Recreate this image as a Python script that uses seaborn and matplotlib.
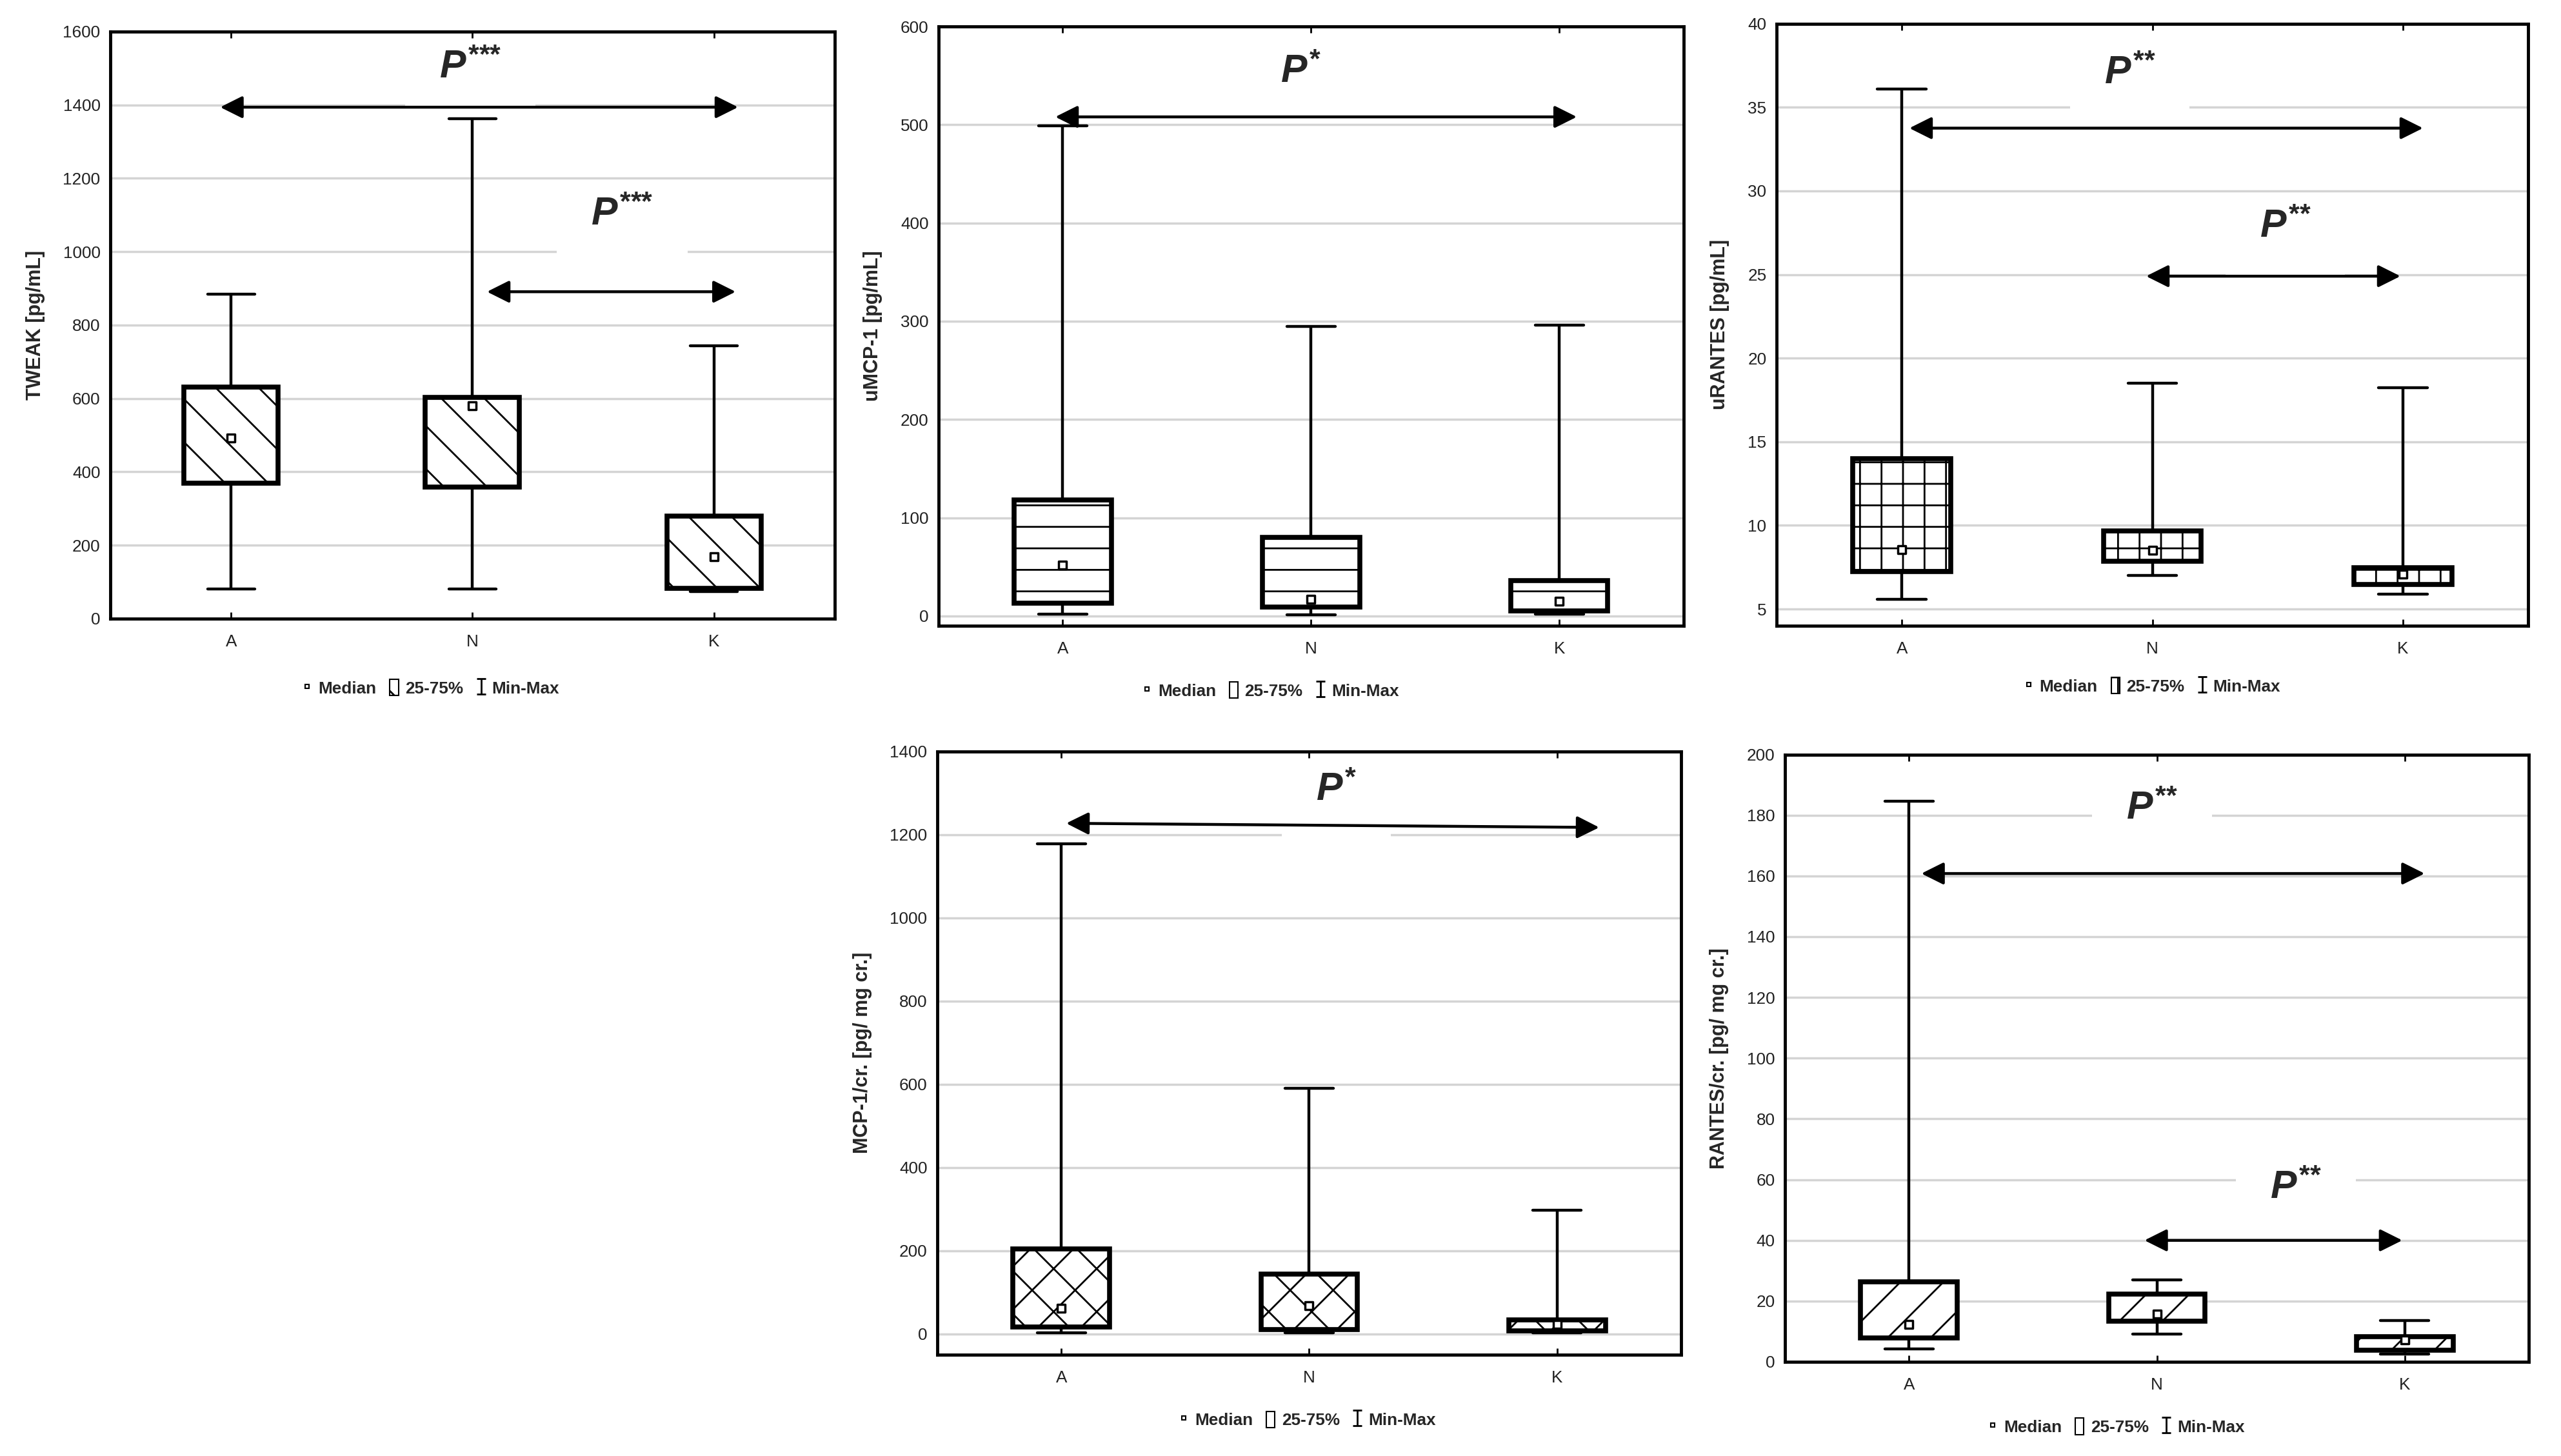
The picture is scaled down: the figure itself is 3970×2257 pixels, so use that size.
import numpy as np
import pandas as pd
import seaborn as sns
import matplotlib.pyplot as plt
from matplotlib.lines import Line2D
from matplotlib.patches import Patch
from matplotlib.path import Path

groups = ['A', 'N', 'K']

# five-number summaries: min, 25%, median, 75%, max
tweak_min = [80, 80, 74]
tweak_q1 = [369, 359, 83]
tweak_med = [492, 581, 169]
tweak_q3 = [632, 603, 280]
tweak_max = [884, 1363, 743]

umcp_min = [2, 1, 2]
umcp_q1 = [13, 9, 5]
umcp_med = [52, 17, 15]
umcp_q3 = [118, 80, 36]
umcp_max = [499, 295, 296]

urantes_min = [5.6, 7.0, 5.9]
urantes_q1 = [7.25, 7.86, 6.46]
urantes_med = [8.57, 8.5, 7.08]
urantes_q3 = [14.0, 9.67, 7.47]
urantes_max = [36.1, 18.5, 18.25]

mcpcr_min = [2, 3, 2]
mcpcr_q1 = [17, 11, 8]
mcpcr_med = [61, 67, 22]
mcpcr_q3 = [204, 143, 33]
mcpcr_max = [1177, 590, 297]

rantescr_min = [4.3, 9.2, 2.6]
rantescr_q1 = [7.9, 13.4, 3.8]
rantescr_med = [12.4, 15.7, 7.2]
rantescr_q3 = [26.4, 22.4, 8.2]
rantescr_max = [184.6, 27.0, 13.6]

sns.set_theme(style='whitegrid')
plt.rcParams['font.family'] = ['Liberation Sans', 'DejaVu Sans']
plt.rcParams['mathtext.fontset'] = 'custom'
plt.rcParams['mathtext.it'] = 'Liberation Sans:italic:bold'
plt.rcParams['mathtext.rm'] = 'Liberation Sans:bold'
plt.rcParams['mathtext.bf'] = 'Liberation Sans:bold'
plt.rcParams['hatch.linewidth'] = 1.0

panels = [
    dict(ylabel='TWEAK [pg/mL]', stats=(tweak_min, tweak_q1, tweak_med, tweak_q3, tweak_max),
         rect=[0.0431, 0.5751, 0.2828, 0.4032], ylim=(0, 1600), yticks=np.arange(0, 1601, 200),
         hatch='\\', leg=(0.443, -0.118),
         arrows=[((-0.045, 1394), (2.10, 1394)), ((1.06, 891), (2.09, 891))],
         sig=[(0.99, 1500, 3), (1.62, 1100, 3)]),
    dict(ylabel='uMCP-1 [pg/mL]', stats=(umcp_min, umcp_q1, umcp_med, umcp_q3, umcp_max),
         rect=[0.3665, 0.5702, 0.2909, 0.4116], ylim=(-10, 600), yticks=np.arange(0, 601, 100),
         hatch='-', leg=(0.446, -0.108),
         arrows=[((-0.03, 508), (2.07, 508))],
         sig=[(0.96, 553, 1)]),
    dict(ylabel='uRANTES [pg/mL]', stats=(urantes_min, urantes_q1, urantes_med, urantes_q3, urantes_max),
         rect=[0.6937, 0.5702, 0.2935, 0.4136], ylim=(4, 40), yticks=np.arange(5, 41, 5),
         hatch='+', leg=(0.5, -0.10),
         arrows=[((0.03, 33.75), (2.08, 33.75)), ((0.975, 24.9), (1.99, 24.9))],
         sig=[(0.91, 37.0, 2), (1.53, 27.8, 2)]),
    dict(ylabel='MCP-1/cr. [pg/ mg cr.]', stats=(mcpcr_min, mcpcr_q1, mcpcr_med, mcpcr_q3, mcpcr_max),
         rect=[0.3660, 0.0696, 0.2904, 0.4144], ylim=(-50, 1400), yticks=np.arange(0, 1401, 200),
         hatch='x', leg=(0.498, -0.108),
         arrows=[((0.02, 1227), (2.17, 1217))],
         sig=[(1.11, 1305, 1)]),
    dict(ylabel='RANTES/cr. [pg/ mg cr.]', stats=(rantescr_min, rantescr_q1, rantescr_med, rantescr_q3, rantescr_max),
         rect=[0.6970, 0.0647, 0.2904, 0.4171], ylim=(0, 200), yticks=np.arange(0, 201, 20),
         hatch='/', leg=(0.446, -0.107),
         arrows=[((0.05, 160.8), (2.08, 160.8)), ((0.95, 40), (1.99, 40))],
         sig=[(0.98, 182, 2), (1.56, 57, 2)]),
]

minmax_marker = Path([(-0.6, 1), (0.6, 1), (0, 1), (0, -1), (-0.6, -1), (0.6, -1)],
                     [Path.MOVETO, Path.LINETO, Path.MOVETO, Path.LINETO, Path.MOVETO, Path.LINETO])


def wide_box(x0, y0, width, height, mutation_size):
    # white patch behind the P label: wide, and hanging further below than above
    px = 0.87 * mutation_size
    top, bottom = 0.15 * mutation_size, 0.75 * mutation_size
    return Path([(x0 - px, y0 - bottom), (x0 + width + px, y0 - bottom),
                 (x0 + width + px, y0 + height + top), (x0 - px, y0 + height + top),
                 (x0 - px, y0 - bottom)], closed=True)


# 200 dpi so that one hatch stroke repeats about every 33 px, as in the original
fig = plt.figure(figsize=(19.85, 11.285), dpi=200)

for p in panels:
    ax = fig.add_axes(p['rect'])
    mins, q1s, meds, q3s, maxs = p['stats']
    rows = []
    for g, lo, a, m, b, hi in zip(groups, mins, q1s, meds, q3s, maxs):
        rows += [(g, v) for v in (lo, a, m, b, hi)]
    df = pd.DataFrame(rows, columns=['group', 'value'])

    # with five points per group the quartiles land exactly on q1 / q3
    sns.boxplot(data=df, x='group', y='value', order=groups, whis=(0, 100), width=0.39,
                color='white', saturation=1, linecolor='black', linewidth=1.6,
                showfliers=False, boxprops={'linewidth': 2.75},
                medianprops={'visible': False}, ax=ax)
    for box in ax.patches:
        box.set_hatch(p['hatch'])
    sns.stripplot(x=groups, y=meds, order=groups, jitter=False, marker='s', size=4.5,
                  color='white', edgecolor='black', linewidth=1.25, zorder=5, ax=ax)

    ax.set_xlim(-0.5, 2.5)
    ax.set_ylim(*p['ylim'])
    ax.set_yticks(p['yticks'])
    ax.set_xlabel('')
    ax.set_ylabel(p['ylabel'], fontsize=11, fontweight='bold', labelpad=10)
    ax.tick_params(axis='both', labelsize=9.4, colors='#222222')
    ax.tick_params(axis='x', bottom=True, top=True, direction='in', length=3.75, width=1.0,
                   pad=8.75, color='black')
    ax.tick_params(axis='y', left=False, length=0, pad=5.6)
    ax.grid(axis='y', color='#d4d4d4', lw=1.25)
    ax.grid(axis='x', visible=False)
    for s in ax.spines.values():
        s.set_visible(True)
        s.set_color('black')
        s.set_linewidth(1.75)

    for (x1, y1), (x2, y2) in p['arrows']:
        ax.annotate('', xy=(x2, y2), xytext=(x1, y1), zorder=6,
                    arrowprops=dict(arrowstyle='<|-|>,head_length=0.7,head_width=0.35',
                                    mutation_scale=15, lw=1.6, color='black',
                                    shrinkA=0, shrinkB=0))
    for x, y, n in p['sig']:
        stars = '{*}' * n
        ax.text(x, y, r'$P^{' + stars + r'}$', fontsize=21.9, ha='center', va='center',
                zorder=2.3, bbox=dict(boxstyle=wide_box, fc='white', ec='none'))

    handles = [
        Line2D([], [], marker='s', ms=2.5, mfc='white', mec='black', mew=0.75, ls='none'),
        Patch(facecolor='white', edgecolor='black', lw=0.75, hatch=p['hatch']),
        Line2D([], [], marker=minmax_marker, ms=8.75, mec='black', mew=1.0, ls='none', color='black'),
    ]
    ax.legend(handles, ['Median', '25-75%', 'Min-Max'], loc='center',
              bbox_to_anchor=p['leg'], ncol=3, frameon=False, handlelength=0.5,
              handleheight=1.1, handletextpad=0.4, columnspacing=0.8,
              prop={'family': ['Liberation Sans Narrow', 'Liberation Sans'], 'weight': 'bold', 'size': 9.4})

fig.savefig('out.png', dpi=200)
